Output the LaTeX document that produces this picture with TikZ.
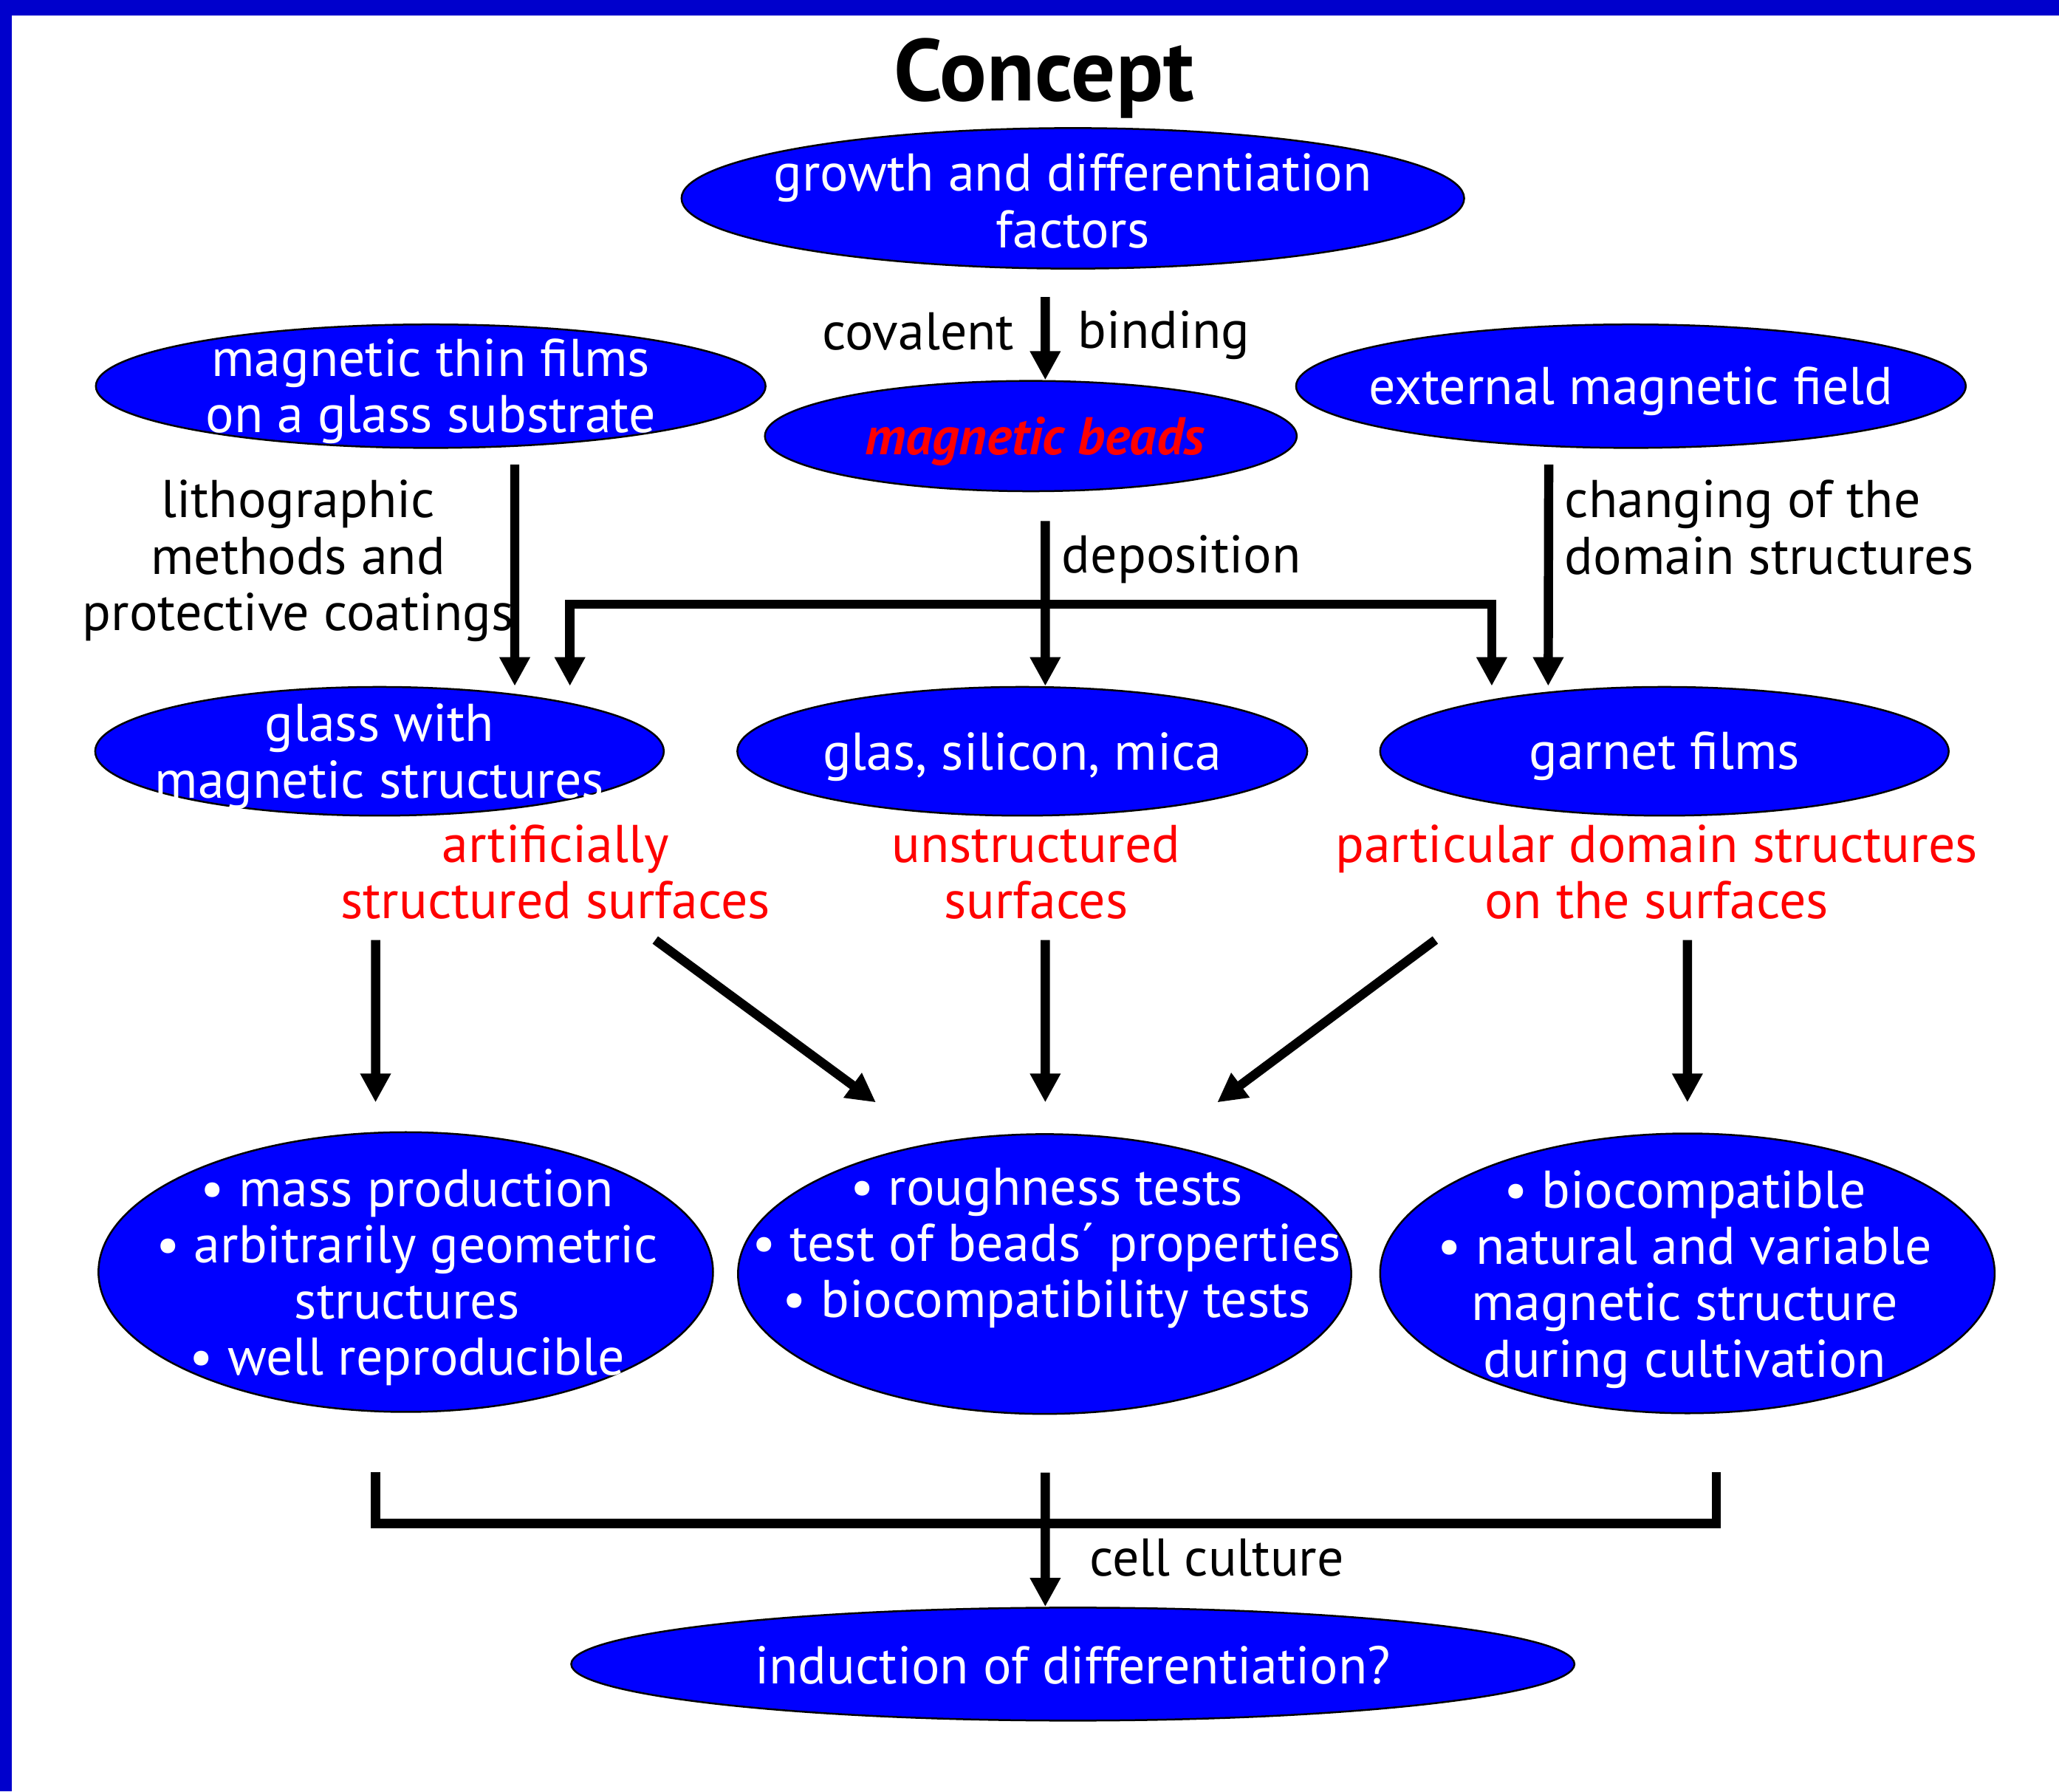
\documentclass[tikz,border=0pt]{standalone}
\usepackage{fontspec}
\setmainfont{PT Sans}
\usepackage{xcolor}
\usetikzlibrary{positioning,arrows.meta,shapes.geometric}
\definecolor{marco}{HTML}{0000CC}
\definecolor{azul}{HTML}{0000FF}
\definecolor{rojo}{HTML}{FF0000}

\begin{document}
\begin{tikzpicture}[
  globo/.style={ellipse, draw=black, line width=0.4pt, fill=azul, inner sep=0pt},
  texto/.style={text=white, align=center, inner sep=0pt, yshift=-0.4mm, font=\fontsize{11.5}{12.2}\selectfont},
  nota/.style={text=black, inner sep=0pt, font=\fontsize{11.5}{12.2}\selectfont},
  logro/.style={text=rojo, align=center, inner sep=0pt, font=\fontsize{11.5}{12.2}\selectfont},
  flecha/.style={-{Triangle[length=0.22cm, width=0.22cm]}, line width=0.07cm},
  linea/.style={line width=0.07cm}
]
\useasboundingbox (0,0) rectangle (15.68,-13.64);
\fill[marco] (0,0) rectangle (15.68,-0.12);
\fill[marco] (0,0) rectangle (0.09,-13.64);

\node[font=\fontsize{19}{22}\selectfont\bfseries, inner sep=0pt, anchor=base] (titulo) at (7.95,-0.77) {Concept};

% fila superior
\node[globo, minimum width=5.96cm, minimum height=1.07cm] (fac) at (8.17,-1.51) {};
\node[texto, yshift=0.2mm] (facT) at (fac) {growth and differentiation\\factors};
\node[globo, minimum width=5.10cm, minimum height=0.94cm] (pel) at (3.28,-2.94) {};
\node[texto] (pelT) at (pel) {magnetic thin films\\on a glass substrate};
\node[globo, minimum width=4.05cm, minimum height=0.84cm] (bead) at (7.85,-3.32) {};
\node[texto, text=rojo, font=\fontsize{11.5}{12.2}\selectfont\bfseries\itshape] (beadT) at (7.88,-3.32) {magnetic beads};
\node[globo, minimum width=5.10cm, minimum height=0.94cm] (campo) at (12.42,-2.94) {};
\node[texto] (campoT) at (campo) {external magnetic field};

% sustratos
\node[globo, minimum width=4.33cm, minimum height=0.98cm] (vid) at (2.89,-5.72) {};
\node[texto] (vidT) at (vid) {glass with\\magnetic structures};
\node[globo, minimum width=4.34cm, minimum height=0.98cm] (sus) at (7.785,-5.72) {};
\node[texto] (susT) at (sus) {glas, silicon, mica};
\node[globo, minimum width=4.33cm, minimum height=0.98cm] (gra) at (12.675,-5.72) {};
\node[texto] (graT) at (gra) {garnet films};

\node[logro] (art) at (4.23,-6.64) {artificially\\structured surfaces};
\node[logro] (uns) at (7.89,-6.64) {unstructured\\surfaces};
\node[logro] (par) at (12.615,-6.64) {particular domain structures\\on the surfaces};

% propiedades
\node[globo, minimum width=4.68cm, minimum height=2.13cm] (prodL) at (3.09,-9.685) {};
\node[texto] (prodLT) at (3.10,-9.685) {• mass production\\• arbitrarily geometric\\structures\\• well reproducible};
\node[globo, minimum width=4.67cm, minimum height=2.13cm] (prodM) at (7.955,-9.70) {};
\node[texto] (prodMT) at (7.97,-9.70) {• roughness tests\\• test of beads´ properties\\• biocompatibility tests\\\strut};
\node[globo, minimum width=4.68cm, minimum height=2.13cm] (prodR) at (12.85,-9.695) {};
\node[texto] (prodRT) at (12.83,-9.70) {• biocompatible\\• natural and variable\\magnetic structure\\during cultivation};

\node[globo, minimum width=7.64cm, minimum height=0.86cm] (ind) at (8.17,-12.67) {};
\node[texto, yshift=0.3mm] (indT) at (ind) {induction of differentiation?};

% etiquetas
\node[nota, anchor=base east] (cov) at (7.73,-2.66) {covalent};
\node[nota, anchor=base west] (bin) at (8.20,-2.65) {binding};
\node[nota, align=center] (lit) at (2.27,-4.27) {lithographic\\methods and\\protective coatings};
\node[nota, anchor=base west] (dep) at (8.08,-4.36) {deposition};
\node[nota, align=left, anchor=west] (dom) at (11.91,-4.015) {changing of the\\domain structures};
\node[nota, anchor=base west] (cel) at (8.29,-12.00) {cell culture};

% flechas
\coordinate (rama) at (7.96,-4.60);
\coordinate (junta) at (7.96,-11.60);
\draw[flecha] ([xshift=-2.1mm,yshift=-2.1mm]fac.south) -- ([xshift=1.1mm]bead.north);
\draw[flecha] ([xshift=6.4mm,yshift=-1.2mm]pel.south) -- ([xshift=10.3mm]vid.north);
\draw[flecha] ([xshift=-6.26mm,yshift=-1.2mm]campo.south) -- ([xshift=-8.85mm]gra.north);
\draw[flecha] ([xshift=1.1mm,yshift=-2.2mm]bead.south) -- (rama |- sus.north);
\draw[flecha] (rama) -| ([xshift=14.5mm]vid.north);
\draw[flecha] (rama) -| ([xshift=-13.15mm]gra.north);

\draw[flecha] ([xshift=-0.3mm,yshift=-9.4mm]vid.south) -- ([xshift=-2.3mm,yshift=2.2mm]prodL.north);
\draw[flecha] ([xshift=21mm,yshift=-9.4mm]vid.south) -- ([xshift=-12.85mm,yshift=2.35mm]prodM.north);
\draw[flecha] ([xshift=1.75mm,yshift=-9.4mm]sus.south) -- ([xshift=0.05mm,yshift=2.35mm]prodM.north);
\draw[flecha] ([xshift=-17.45mm,yshift=-9.4mm]gra.south) -- ([xshift=13.15mm,yshift=2.35mm]prodM.north);
\draw[flecha] ([xshift=1.75mm,yshift=-9.4mm]gra.south) -- ([yshift=2.3mm]prodR.north);

\draw[linea] ([xshift=-2.3mm,yshift=-4.5mm]prodL.south) |- (junta);
\draw[linea] ([xshift=2.2mm,yshift=-4.4mm]prodR.south) |- (junta);
\draw[flecha] ([xshift=0.05mm,yshift=-4.4mm]prodM.south) -- (junta |- ind.north);
\end{tikzpicture}
\end{document}
